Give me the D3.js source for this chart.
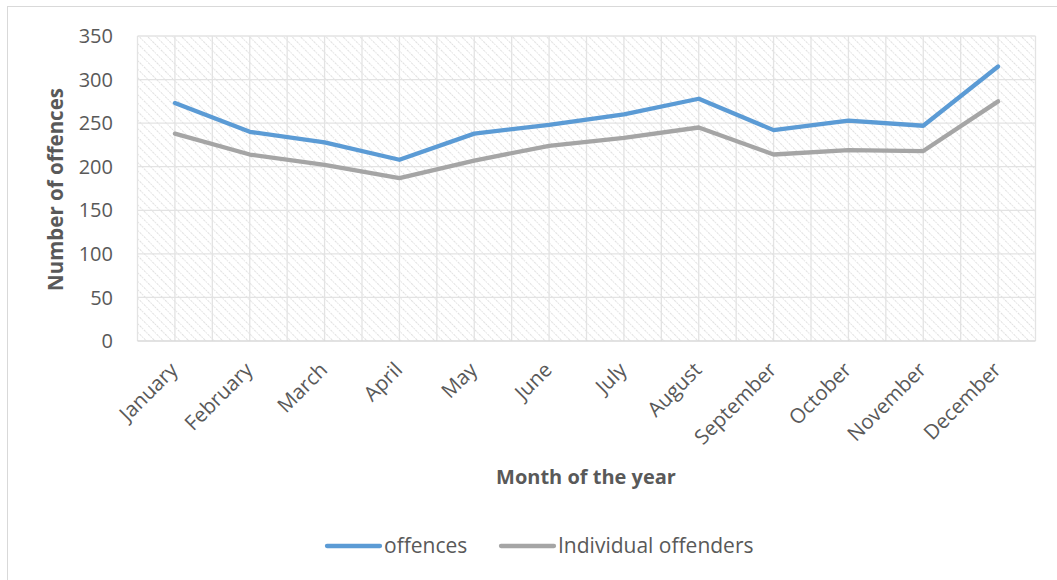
<!DOCTYPE html>
<html>
<head>
<meta charset="utf-8">
<script src="https://cdn.jsdelivr.net/npm/d3@7"></script>
<style>
  body { margin: 0; background: #fff; }
  text { font-family: "Open Sans", sans-serif; fill: #595959; }
</style>
</head>
<body>
<svg width="1057" height="580"></svg>
<script>
const months = ["January", "February", "March", "April", "May", "June", "July",
  "August", "September", "October", "November", "December"];
const offences = [273, 240, 228, 208, 238, 248, 260, 278, 242, 253, 247, 315];
const offenders = [238, 214, 202, 187, 207, 224, 233, 245, 214, 219, 218, 275];
const yTicks = [0, 50, 100, 150, 200, 250, 300, 350];

const svg = d3.select("svg");
const width = +svg.attr("width");
const height = +svg.attr("height");

const plot = { left: 137.5, top: 36, right: 1035.5, bottom: 341 };

// hatch pattern for the plot area
const defs = svg.append("defs");
defs.append("pattern")
  .attr("id", "hatch")
  .attr("patternUnits", "userSpaceOnUse")
  .attr("width", 6)
  .attr("height", 6)
  .attr("patternTransform", "rotate(-45)")
  .append("line")
  .attr("x1", 0).attr("y1", 0).attr("x2", 0).attr("y2", 6)
  .attr("stroke", "#d9d9d9")
  .attr("stroke-width", 1.6)
  .attr("stroke-dasharray", "1.5,1");

// chart border
svg.append("rect")
  .attr("x", 7.5).attr("y", 6.5)
  .attr("width", width + 10).attr("height", height + 10)
  .attr("fill", "none")
  .attr("stroke", "#d9d9d9");

const x = d3.scaleBand()
  .domain(months)
  .range([plot.left, plot.right]);

const y = d3.scaleLinear()
  .domain([0, 350])
  .range([plot.bottom, plot.top]);

svg.append("rect")
  .attr("x", plot.left).attr("y", plot.top)
  .attr("width", plot.right - plot.left)
  .attr("height", plot.bottom - plot.top)
  .attr("fill", "url(#hatch)");

// gridlines: horizontal at ticks, vertical at category centres and edges
const grid = svg.append("g").attr("stroke", "#e3e3e3").attr("stroke-width", 1.3);
grid.selectAll(".h")
  .data(yTicks.slice(1))
  .join("line")
  .attr("x1", plot.left).attr("x2", plot.right)
  .attr("y1", d => y(d)).attr("y2", d => y(d));

const vLines = [];
months.forEach(m => {
  vLines.push(x(m));
  vLines.push(x(m) + x.bandwidth() / 2);
});
vLines.push(plot.right);
grid.selectAll(".v")
  .data(vLines)
  .join("line")
  .attr("x1", d => d).attr("x2", d => d)
  .attr("y1", plot.top).attr("y2", plot.bottom);

// x axis line
svg.append("line")
  .attr("x1", plot.left).attr("x2", plot.right)
  .attr("y1", plot.bottom).attr("y2", plot.bottom)
  .attr("stroke", "#d9d9d9").attr("stroke-width", 1.5);

// y tick labels
svg.append("g")
  .selectAll("text")
  .data(yTicks)
  .join("text")
  .attr("x", 113)
  .attr("y", d => y(d))
  .attr("dy", "0.36em")
  .attr("text-anchor", "end")
  .style("font-size", "20px")
  .text(d => d);

// x tick labels
svg.append("g")
  .selectAll("text")
  .data(months)
  .join("text")
  .attr("transform", d => `translate(${x(d) + x.bandwidth() / 2 - 6},${plot.bottom + 20}) rotate(-45)`)
  .attr("text-anchor", "end")
  .attr("dy", "0.7em")
  .style("font-size", "20.5px")
  .text(d => d);

// axis titles
svg.append("text")
  .attr("transform", `translate(63,${(plot.top + plot.bottom) / 2 + 1}) rotate(-90)`)
  .attr("text-anchor", "middle")
  .style("font-size", "20.5px")
  .style("font-weight", "bold")
  .text("Number of offences");

svg.append("text")
  .attr("x", 586)
  .attr("y", 484)
  .attr("text-anchor", "middle")
  .style("font-size", "20px")
  .style("font-weight", "bold")
  .text("Month of the year");

// lines
const line = d3.line()
  .x((d, i) => x(months[i]) + x.bandwidth() / 2)
  .y(d => y(d));

const series = [
  { name: "offences", values: offences, color: "#5b9bd5" },
  { name: "Individual offenders", values: offenders, color: "#a5a5a5" }
];

svg.append("g")
  .selectAll("path")
  .data(series)
  .join("path")
  .attr("d", d => line(d.values))
  .attr("fill", "none")
  .attr("stroke", d => d.color)
  .attr("stroke-width", 4.3)
  .attr("stroke-linejoin", "round")
  .attr("stroke-linecap", "round");

// legend
const legendX = [327, 501];
const legend = svg.append("g")
  .selectAll("g")
  .data(series)
  .join("g")
  .attr("transform", (d, i) => `translate(${legendX[i]},546)`);

legend.append("line")
  .attr("x1", 0).attr("x2", 53)
  .attr("stroke", d => d.color)
  .attr("stroke-width", 4.3)
  .attr("stroke-linecap", "round");

legend.append("text")
  .attr("x", 57)
  .attr("dy", "0.35em")
  .style("font-size", "21px")
  .text(d => d.name);
</script>
</body>
</html>
